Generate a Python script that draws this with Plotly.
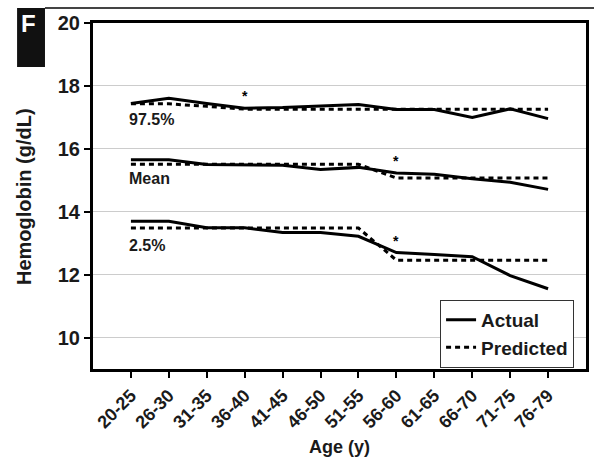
import plotly.graph_objects as go

ages = ["20-25", "26-30", "31-35", "36-40", "41-45", "46-50", "51-55",
        "56-60", "61-65", "66-70", "71-75", "76-79"]
p975_actual = [17.44, 17.61, 17.44, 17.29, 17.31, 17.35, 17.41, 17.25, 17.25, 17.00, 17.27, 16.96]
p975_pred = [17.43, 17.43, 17.35, 17.26, 17.26, 17.26, 17.26, 17.26, 17.26, 17.26, 17.26, 17.26]
mean_actual = [15.65, 15.65, 15.50, 15.50, 15.48, 15.34, 15.41, 15.23, 15.19, 15.05, 14.94, 14.71]
mean_pred = [15.51, 15.51, 15.51, 15.51, 15.51, 15.51, 15.51, 15.07, 15.07, 15.07, 15.07, 15.07]
p25_actual = [13.70, 13.70, 13.49, 13.49, 13.34, 13.34, 13.22, 12.70, 12.64, 12.57, 11.97, 11.55]
p25_pred = [13.48, 13.48, 13.48, 13.48, 13.48, 13.48, 13.48, 12.46, 12.46, 12.46, 12.46, 12.46]

series_labels = ["97.5%", "Mean", "2.5%"]
label_y = [16.92, 15.05, 12.94]
star_x = [3, 7, 7]
star_y = [17.76, 15.71, 13.16]
y_ticks = [10, 12, 14, 16, 18, 20]

FONT = "Liberation Sans, Arial, Helvetica, sans-serif"
TXT = "#1a1a1a"
xi = list(range(len(ages)))

fig = go.Figure()
pairs = [(p975_actual, p975_pred), (mean_actual, mean_pred), (p25_actual, p25_pred)]
for k, (act, pred) in enumerate(pairs):
    fig.add_trace(go.Scatter(x=xi, y=pred, mode="lines", name="Predicted",
                             line=dict(color="black", width=3, dash="5px,4px"),
                             showlegend=(k == 0), legendrank=2))
    fig.add_trace(go.Scatter(x=xi, y=act, mode="lines", name="Actual",
                             line=dict(color="black", width=3),
                             showlegend=(k == 0), legendrank=1))

annotations = []
for lab, ly in zip(series_labels, label_y):
    annotations.append(dict(x=-0.1, y=ly, xref="x", yref="y", text=lab, showarrow=False,
                            xanchor="left", yanchor="middle",
                            font=dict(size=16, color=TXT, family=FONT, weight="bold")))
for sx, sy in zip(star_x, star_y):
    annotations.append(dict(x=sx, y=sy, xref="x", yref="y", text="*", showarrow=False,
                            xanchor="center", yanchor="middle", yshift=-3,
                            font=dict(size=14, color="black", family=FONT, weight="bold")))
# panel letter
annotations.append(dict(x=-0.1318, y=1.0, xref="paper", yref="paper", text="F", showarrow=False,
                        xanchor="center", yanchor="middle",
                        font=dict(size=24, color="white", family=FONT, weight="bold")))
# axis titles
annotations.append(dict(x=0.5, y=-0.225, xref="paper", yref="paper", text="Age (y)",
                        showarrow=False, xanchor="center", yanchor="middle",
                        font=dict(size=18, color=TXT, family=FONT, weight="bold")))
annotations.append(dict(x=-0.14, y=0.5, xref="paper", yref="paper", text="Hemoglobin (g/dL)",
                        showarrow=False, xanchor="center", yanchor="middle", textangle=-90,
                        font=dict(size=20, color=TXT, family=FONT, weight="bold")))

shapes = [
    dict(type="rect", xref="paper", yref="paper", x0=-0.154, x1=-0.0974, y0=0.873, y1=1.043,
         fillcolor="#111111", line=dict(width=0), layer="above"),
    dict(type="line", xref="paper", yref="paper", x0=-0.0974, x1=1.02, y0=1.043, y1=1.043,
         line=dict(color="#444444", width=2)),
]

fig.update_layout(
    width=594, height=462,
    margin=dict(l=93, r=8, t=23, b=93),
    paper_bgcolor="white", plot_bgcolor="white",
    font=dict(family=FONT, size=16, color=TXT, weight="bold"),
    showlegend=True,
    legend=dict(x=0.704, y=0.2, xanchor="left", yanchor="top",
                bordercolor="#333333", borderwidth=1, bgcolor="white",
                font=dict(size=19, family=FONT, color=TXT, weight="bold"),
                tracegroupgap=0, itemwidth=30),
    annotations=annotations,
    shapes=shapes,
)
fig.update_xaxes(
    range=[-1, 12], tickmode="array", tickvals=xi, ticktext=ages, tickangle=-45,
    showline=True, mirror=True, linewidth=3, linecolor="black",
    ticks="outside", ticklen=6, tickwidth=2, tickcolor="black",
    showgrid=False, zeroline=False, automargin=False,
    tickfont=dict(size=18, family=FONT, color=TXT, weight="bold"),
)
fig.update_yaxes(
    range=[9, 20], tickmode="array", tickvals=y_ticks,
    showline=True, mirror=True, linewidth=3, linecolor="black",
    ticks="outside", ticklen=6, tickwidth=2, tickcolor="black",
    showgrid=True, gridcolor="#cccccc", gridwidth=1, zeroline=False, automargin=False,
    tickfont=dict(size=20, family=FONT, color=TXT, weight="bold"),
)
fig.write_html("out.html", config={"displayModeBar": False},
               post_script="document.body.style.margin='0';")
